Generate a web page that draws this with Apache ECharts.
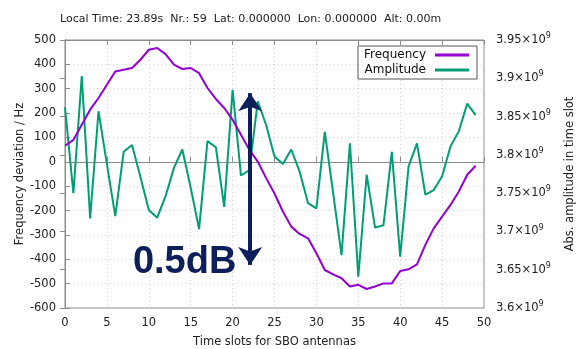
<!DOCTYPE html>
<html>
<head>
<meta charset="utf-8">
<script src="https://cdn.jsdelivr.net/npm/echarts@6/dist/echarts.min.js"></script>
<style>html,body{margin:0;padding:0;background:#fff;}#c{width:581px;height:349px;}</style>
</head>
<body>
<div id="c"></div>
<script>
// ---- data ----
var slots = [0,1,2,3,4,5,6,7,8,9,10,11,12,13,14,15,16,17,18,19,20,21,22,23,24,25,26,27,28,29,30,31,32,33,34,35,36,37,38,39,40,41,42,43,44,45,46,47,48,49];
var frequency = [66,90,152,214,262,316,371,378,385,419,460,467,442,399,381,385,364,303,258,221,173,111,49,1,-67,-130,-204,-266,-296,-314,-375,-444,-462,-478,-512,-505,-522,-512,-499,-499,-448,-441,-421,-341,-273,-225,-177,-122,-53,-16];
var amplitude = [3.862e9,3.750e9,3.903e9,3.717e9,3.857e9,3.788e9,3.720e9,3.804e9,3.813e9,3.771e9,3.728e9,3.718e9,3.746e9,3.783e9,3.807e9,3.757e9,3.703e9,3.818e9,3.810e9,3.732e9,3.885e9,3.773e9,3.780e9,3.870e9,3.839e9,3.798e9,3.788e9,3.807e9,3.778e9,3.737e9,3.730e9,3.830e9,3.750e9,3.669e9,3.815e9,3.641e9,3.774e9,3.705e9,3.708e9,3.804e9,3.667e9,3.785e9,3.815e9,3.748e9,3.754e9,3.772e9,3.811e9,3.831e9,3.867e9,3.852e9];
var titleText = "Local Time: 23.89s  Nr.: 59  Lat: 0.000000  Lon: 0.000000  Alt: 0.00m";
var xName = "Time slots for SBO antennas";
var yLeftName = "Frequency deviation / Hz";
var yRightName = "Abs. amplitude in time slot";
var seriesNames = ["Frequency", "Amplitude"];
// annotation: 0.5 dB arrow (in slot / amplitude units) and its label
var arrowSlot = 22.1;
var arrowTop = 3.8806e9;
var arrowBottom = 3.6563e9;
var annoText = "0.5dB";
var annoAnchor = [8.1, -414]; // slot, frequency-axis units

var FONT = "DejaVu Sans";
var navy = "#0c1f5b";
var purple = "#9400d3";
var green = "#009e73";
var borderCol = "#8c8c8c";

var chart = echarts.init(document.getElementById('c'), null, {renderer: 'canvas'});
var fmtRight = function (v) {
  var s = parseFloat((v / 1e9).toFixed(2)).toString();
  return '{a|' + s + '×10}{s|9}';
};
var gridLine = {show: true, lineStyle: {color: '#d4d4d4', type: [1, 3], width: 1}};
chart.setOption({
  animation: false,
  backgroundColor: '#fff',
  textStyle: {fontFamily: FONT},
  title: {
    text: titleText, left: 55, top: 9,
    textStyle: {fontFamily: FONT, fontSize: 11, fontWeight: 'normal', color: '#222'}
  },
  grid: {left: 65, right: 97, top: 40, bottom: 41, show: true, borderColor: borderCol, borderWidth: 1, backgroundColor: 'transparent', containLabel: false, outerBoundsMode: 'none'},
  legend: {
    data: seriesNames, right: 104, top: 46, orient: 'vertical', align: 'right',
    itemWidth: 34, itemHeight: 3, itemGap: 3, icon: 'rect',
    borderColor: '#555', borderWidth: 1, padding: [3, 8, 3, 6], backgroundColor: '#fff',
    textStyle: {fontFamily: FONT, fontSize: 12, color: '#111', padding: [0, 4, 0, 0]}
  },
  xAxis: [{
    type: 'value', min: 0, max: 50, interval: 5,
    name: xName, nameLocation: 'middle', nameGap: 28,
    nameTextStyle: {fontFamily: FONT, fontSize: 11.5, color: '#222'},
    axisLine: {show: true, lineStyle: {color: borderCol}},
    axisTick: {show: true, inside: true, length: 5, lineStyle: {color: borderCol}},
    axisLabel: {fontFamily: FONT, fontSize: 11.5, color: '#222', margin: 9},
    splitLine: gridLine
  }, {
    type: 'value', min: 0, max: 50, interval: 5, position: 'top',
    axisLine: {show: true, lineStyle: {color: borderCol}},
    axisTick: {show: true, inside: true, length: 5, lineStyle: {color: borderCol}},
    axisLabel: {show: false}, splitLine: {show: false}
  }],
  yAxis: [{
    type: 'value', min: -600, max: 500, interval: 100, position: 'left',
    name: yLeftName, nameLocation: 'middle', nameGap: 39, nameRotate: 90, nameMoveOverlap: false,
    nameTextStyle: {fontFamily: FONT, fontSize: 11.5, color: '#222'},
    axisLine: {show: true, lineStyle: {color: borderCol}},
    axisTick: {show: true, inside: true, length: 5, lineStyle: {color: borderCol}},
    axisLabel: {fontFamily: FONT, fontSize: 11.5, color: '#222', margin: 9},
    splitLine: gridLine
  }, {
    type: 'value', min: 3.6e9, max: 3.95e9, interval: 0.05e9, position: 'right',
    name: yRightName, nameLocation: 'middle', nameGap: 80, nameRotate: 90,
    nameTextStyle: {fontFamily: FONT, fontSize: 11.5, color: '#222'},
    axisLine: {show: true, lineStyle: {color: borderCol}},
    axisTick: {show: true, inside: true, length: 5, lineStyle: {color: borderCol}},
    axisLabel: {
      formatter: fmtRight, margin: 12,
      rich: {
        a: {fontFamily: FONT, fontSize: 11.5, color: '#222'},
        s: {fontFamily: FONT, fontSize: 8, color: '#222', verticalAlign: 'top', padding: [0, 0, 8, 0]}
      }
    },
    splitLine: {show: false}
  }],
  series: [{
    name: seriesNames[0], type: 'line', xAxisIndex: 0, yAxisIndex: 0,
    data: slots.map(function (s, i) { return [s, frequency[i]]; }),
    showSymbol: false, symbol: 'none', lineStyle: {color: purple, width: 2}, itemStyle: {color: purple}, z: 3
  }, {
    name: seriesNames[1], type: 'line', xAxisIndex: 0, yAxisIndex: 1,
    data: slots.map(function (s, i) { return [s, amplitude[i]]; }),
    showSymbol: false, symbol: 'none', lineStyle: {color: green, width: 2}, itemStyle: {color: green}, z: 2,
    markLine: {
      silent: true, symbol: ['arrow', 'arrow'], symbolSize: [18, 18],
      lineStyle: {color: navy, width: 4, type: 'solid'},
      label: {show: false}, emphasis: {disabled: true},
      data: [[{coord: [arrowSlot, arrowTop]}, {coord: [arrowSlot, arrowBottom]}]]
    }
  }]
});
var p = chart.convertToPixel({xAxisIndex: 0, yAxisIndex: 0}, annoAnchor);
chart.setOption({
  graphic: [{
    type: 'text', x: p[0], y: p[1], z: 100,
    style: {text: annoText, fill: navy, fontFamily: 'Liberation Sans', fontWeight: 'bold', fontSize: 38, textVerticalAlign: 'middle', textAlign: 'left'}
  }]
});
</script>
</body>
</html>
